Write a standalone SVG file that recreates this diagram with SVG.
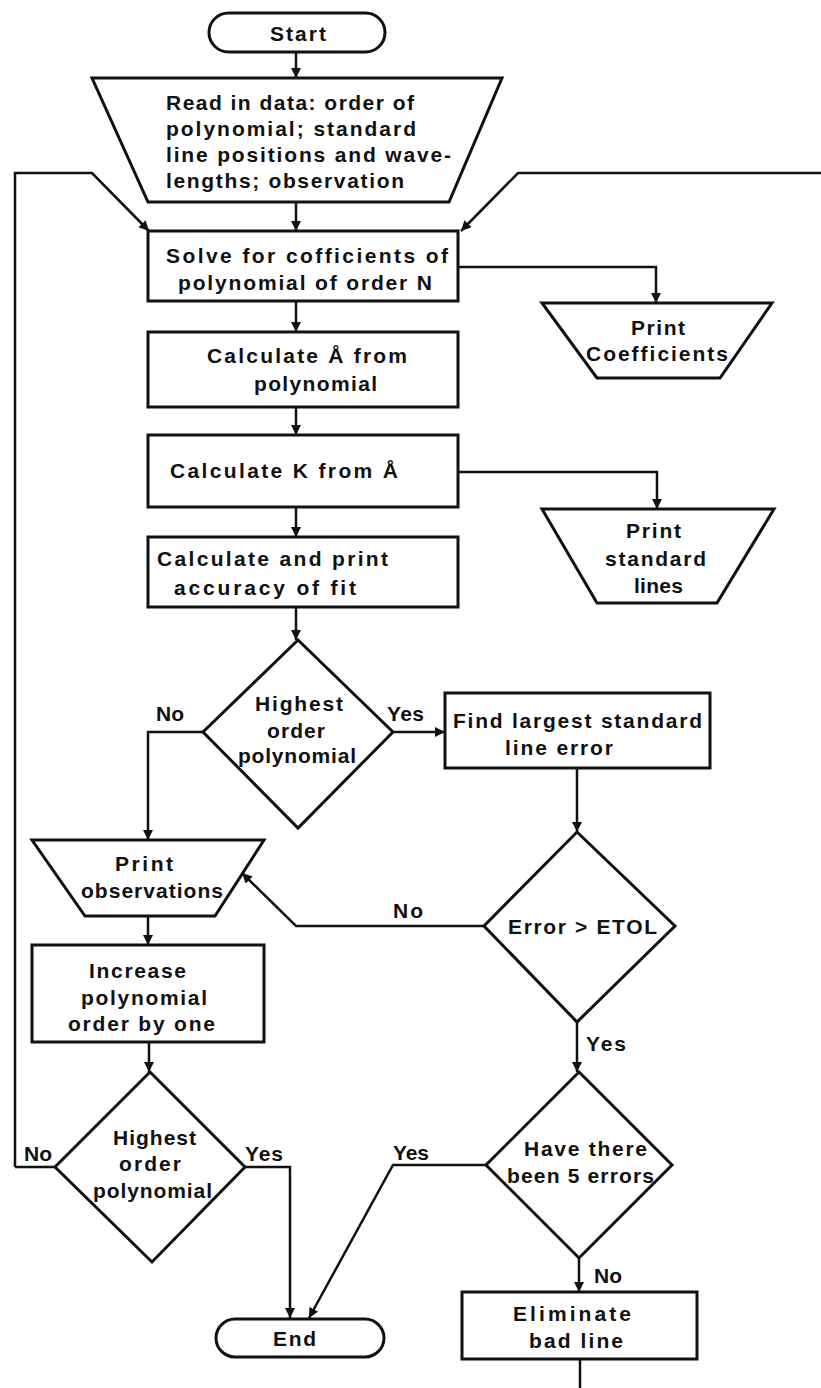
<svg xmlns="http://www.w3.org/2000/svg" width="821" height="1388" viewBox="0 0 821 1388">
<style>
.s{fill:none;stroke:#111;stroke-width:3;stroke-linejoin:miter}
.l{fill:none;stroke:#111;stroke-width:2.5}
text{font-family:"Liberation Sans",Arial,sans-serif;font-weight:bold;font-size:21px;fill:#111}
.m{text-anchor:middle}
</style>
<defs>
<marker id="a" viewBox="0 0 10 10" refX="10" refY="5" markerWidth="4" markerHeight="4" orient="auto" markerUnits="strokeWidth">
<path d="M0,0 L10,5 L0,10 z" fill="#111"/>
</marker>
</defs>
<rect width="821" height="1388" fill="#fff"/>
<g id="connectors">
<path class="l" marker-end="url(#a)" d="M296,52 V78"/>
<path class="l" marker-end="url(#a)" d="M296,202 V231"/>
<path class="l" marker-end="url(#a)" d="M15,1167 V173 H92 L149,231"/>
<path class="l" marker-end="url(#a)" d="M821,173 H518 L461,231"/>
<path class="l" marker-end="url(#a)" d="M458,267 H656 V303"/>
<path class="l" marker-end="url(#a)" d="M296,301 V332"/>
<path class="l" marker-end="url(#a)" d="M296,407 V435"/>
<path class="l" marker-end="url(#a)" d="M458,472 H657 V509"/>
<path class="l" marker-end="url(#a)" d="M296,507 V537"/>
<path class="l" marker-end="url(#a)" d="M296,607 V640"/>
<path class="l" marker-end="url(#a)" d="M203,732 H148 V840"/>
<path class="l" marker-end="url(#a)" d="M393,732 H445"/>
<path class="l" marker-end="url(#a)" d="M577,768 V832"/>
<path class="l" marker-end="url(#a)" d="M484,926 H296 L242,873"/>
<path class="l" marker-end="url(#a)" d="M148,916 V945"/>
<path class="l" marker-end="url(#a)" d="M149,1042 V1072"/>
<path class="l" d="M55,1167 H15"/>
<path class="l" marker-end="url(#a)" d="M245,1167 H290 V1318"/>
<path class="l" marker-end="url(#a)" d="M577,1022 V1072"/>
<path class="l" marker-end="url(#a)" d="M486,1165 H393 L309,1318"/>
<path class="l" marker-end="url(#a)" d="M579,1258 V1292"/>
<path class="l" d="M580,1359 V1388"/>
</g>
<g id="start">
<rect class="s" x="209" y="13" width="176" height="39" rx="19.5"/>
<text class="m" x="298" y="41" textLength="56">Start</text>
</g>
<g id="read">
<path class="s" d="M92,78 H502 L449,202 H148 Z"/>
<text x="166" y="110" textLength="248">Read in data: order of</text>
<text x="166" y="136" textLength="250">polynomial; standard</text>
<text x="166" y="162" textLength="285">line positions and wave-</text>
<text x="166" y="188" textLength="238">lengths; observation</text>
</g>
<g id="solve">
<rect class="s" x="148" y="231" width="310" height="70"/>
<text x="166" y="263" textLength="282">Solve for cofficients of</text>
<text x="178" y="290" textLength="254">polynomial of order N</text>
</g>
<g id="printcoef">
<path class="s" d="M542,303 H772 L720,378 H597 Z"/>
<text x="631" y="335" textLength="54">Print</text>
<text x="586" y="361" textLength="142">Coefficients</text>
</g>
<g id="calcA">
<rect class="s" x="148" y="332" width="310" height="75"/>
<text x="207" y="363" textLength="200">Calculate Å from</text>
<text x="254" y="391" textLength="123">polynomial</text>
</g>
<g id="calcK">
<rect class="s" x="148" y="435" width="310" height="72"/>
<text x="170" y="478" textLength="228">Calculate K from Å</text>
</g>
<g id="printstd">
<path class="s" d="M542,509 H774 L717,603 H597 Z"/>
<text x="626" y="538" textLength="55">Print</text>
<text x="605" y="566" textLength="101">standard</text>
<text x="634" y="593" textLength="49">lines</text>
</g>
<g id="accuracy">
<rect class="s" x="148" y="537" width="310" height="70"/>
<text x="157" y="566" textLength="231">Calculate and print</text>
<text x="174" y="595" textLength="182">accuracy of fit</text>
</g>
<g id="highest1">
<path class="s" d="M298,640 L393,732 L298,828 L203,732 Z"/>
<text x="255" y="711" textLength="88">Highest</text>
<text x="267" y="738" textLength="58">order</text>
<text x="238" y="763" textLength="118">polynomial</text>
<text x="156" y="721" textLength="28">No</text>
<text x="387" y="721" textLength="37">Yes</text>
</g>
<g id="find">
<rect class="s" x="445" y="693" width="265" height="75"/>
<text x="453" y="728" textLength="249">Find largest standard</text>
<text x="505" y="755" textLength="108">line error</text>
</g>
<g id="error">
<path class="s" d="M577,832 L675,926 L577,1022 L484,926 Z"/>
<text x="508" y="934" textLength="149">Error &gt; ETOL</text>
<text x="393" y="918" textLength="30">No</text>
<text x="586" y="1051" textLength="40">Yes</text>
</g>
<g id="printobs">
<path class="s" d="M32,840 H264 L215,916 H85 Z"/>
<text x="115" y="871" textLength="58">Print</text>
<text x="81" y="898" textLength="142">observations</text>
</g>
<g id="increase">
<rect class="s" x="32" y="945" width="232" height="97"/>
<text x="89" y="978" textLength="97">Increase</text>
<text x="81" y="1005" textLength="126">polynomial</text>
<text x="68" y="1031" textLength="147">order by one</text>
</g>
<g id="highest2">
<path class="s" d="M150,1072 L245,1167 L152,1262 L55,1167 Z"/>
<text x="113" y="1145" textLength="83">Highest</text>
<text x="119" y="1171" textLength="62">order</text>
<text x="93" y="1198" textLength="119">polynomial</text>
<text x="24" y="1161" textLength="28">No</text>
<text x="245" y="1161" textLength="38">Yes</text>
</g>
<g id="have">
<path class="s" d="M579,1072 L672,1165 L579,1258 L486,1165 Z"/>
<text x="524" y="1156" textLength="123">Have there</text>
<text x="507" y="1183" textLength="147">been 5 errors</text>
<text x="393" y="1160" textLength="36">Yes</text>
<text x="594" y="1283" textLength="28">No</text>
</g>
<g id="eliminate">
<rect class="s" x="462" y="1292" width="235" height="67"/>
<text x="513" y="1321" textLength="118">Eliminate</text>
<text x="529" y="1348" textLength="94">bad line</text>
</g>
<g id="end">
<rect class="s" x="216" y="1319" width="168" height="38" rx="19"/>
<text x="273" y="1346" textLength="43">End</text>
</g>
</svg>
